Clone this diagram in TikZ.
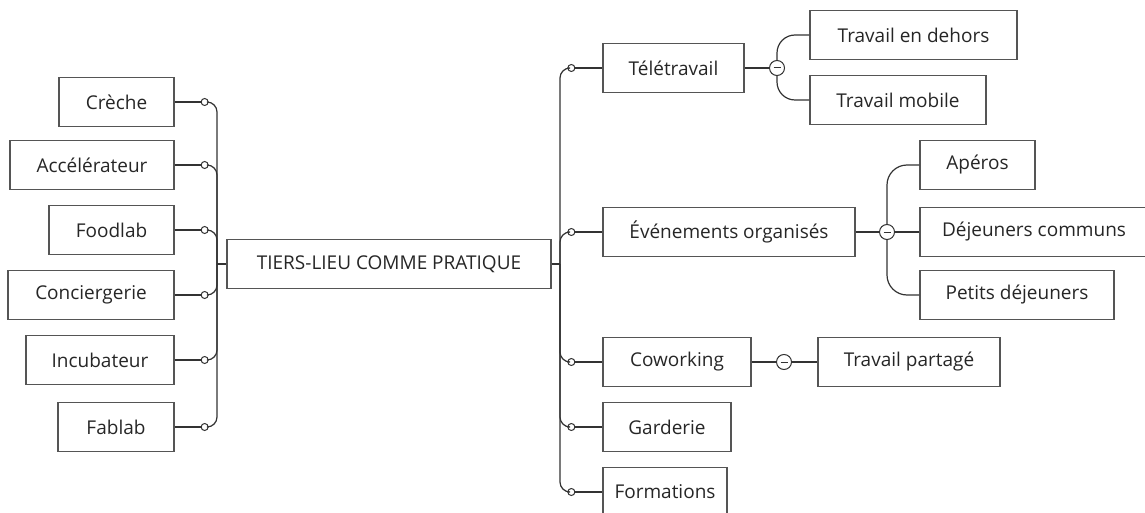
\documentclass[tikz,border=0pt]{standalone}
\usepackage{fontspec}
\setmainfont{Open Sans}
\usepackage{tikz}
\usetikzlibrary{calc}
\definecolor{boxgray}{HTML}{555555}
\definecolor{linegray}{HTML}{333333}
\definecolor{textgray}{HTML}{262626}
\begin{document}
\begin{tikzpicture}[x=1pt, y=-1pt,
    box/.style={draw=boxgray, line width=1.3pt, minimum height=49pt, inner sep=0pt, text=textgray, font=\fontsize{19}{22}\selectfont},
    link/.style={draw=linegray, line width=1.2pt},
    dot/.style={circle, draw=linegray, fill=white, line width=1pt, minimum size=7pt, inner sep=0pt},
    fold/.style={circle, draw=linegray, fill=white, line width=1pt, minimum size=15pt, inner sep=0pt,
        path picture={\draw[linegray, line width=1pt] ([xshift=-3.5pt]path picture bounding box.center) -- ([xshift=3.5pt]path picture bounding box.center);}}]
                \useasboundingbox (0,0) rectangle (1145,513);
                \node[box, minimum width=324pt] (root) at (389,264) {TIERS-LIEU COMME PRATIQUE};
                \node[box, minimum width=115pt] (creche) at (116.5,102) {Crèche};
                \node[box, minimum width=164pt] (accel) at (92,165) {Accélérateur};
                \node[box, minimum width=125pt] (foodlab) at (111.5,230) {Foodlab};
                \node[box, minimum width=166pt] (concierge) at (91,295) {Conciergerie};
                \node[box, minimum width=148pt] (incub) at (100,360) {Incubateur};
                \node[box, minimum width=116pt] (fablab) at (116,427) {Fablab};
                \node[box, minimum width=141pt] (tele) at (673.5,68) {Télétravail};
                \node[box, minimum width=252pt] (event) at (729,232) {Événements organisés};
                \node[box, minimum width=148pt] (cowork) at (677,362) {Coworking};
                \node[box, minimum width=128pt] (garderie) at (667,427) {Garderie};
                \node[box, minimum width=124pt] (formations) at (665,492) {Formations};
                \node[box, minimum width=207pt] (dehors) at (913.5,35) {Travail en dehors};
                \node[box, minimum width=176pt] (mobile) at (898,100) {Travail mobile};
                \node[box, minimum width=115pt] (aperos) at (977.5,165) {Apéros};
                \node[box, minimum width=228pt] (dejcom) at (1034,232) {Déjeuners communs};
                \node[box, minimum width=194pt] (petits) at (1017,295) {Petits déjeuners};
                \node[box, minimum width=182pt] (partage) at (909,362) {Travail partagé};
                \coordinate (lhub) at (217,264);
                \coordinate (rhub) at (560,264);
                \foreach \n in {creche,accel,foodlab,concierge,incub,fablab} {
                    \node[dot] (d\n) at ($(\n.east)+(30pt,0)$) {};
                    \draw[link] (\n.east) -- (d\n);
                    \draw[link, rounded corners=10pt] (lhub) |- (d\n.east);
                }
                \foreach \n in {tele,event,cowork,garderie,formations} {
                    \node[dot] (d\n) at ($(\n.west)+(-31pt,0)$) {};
                    \draw[link] (d\n) -- (\n.west);
                    \draw[link, rounded corners=10pt] (rhub) |- (d\n.west);
                }
                \draw[link] (root.west) -- (lhub);
                \draw[link] (root.east) -- (rhub);
                \node[fold] (ftele) at (777,68) {};
                \node[fold] (fevent) at (887,232) {};
                \node[fold] (fcowork) at (784,362) {};
                \draw[link] (tele.east) -- (ftele);
                \draw[link, rounded corners=18pt] (ftele.north) |- (dehors.west);
                \draw[link, rounded corners=18pt] (ftele.south) |- (mobile.west);
                \draw[link] (event.east) -- (fevent) -- (dejcom.west);
                \draw[link, rounded corners=20pt] (fevent.north) |- (aperos.west);
                \draw[link, rounded corners=20pt] (fevent.south) |- (petits.west);
                \draw[link] (cowork.east) -- (fcowork) -- (partage.west);
            \end{tikzpicture}
\end{document}
